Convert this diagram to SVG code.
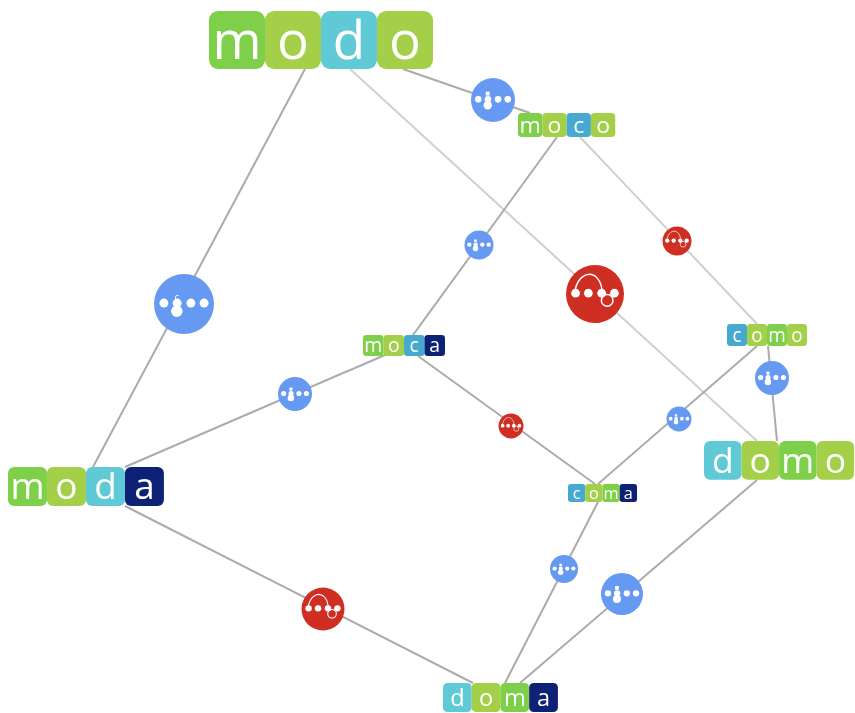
<svg xmlns="http://www.w3.org/2000/svg" width="855" height="713" viewBox="0 0 855 713">
<style>
.edge{stroke:#ababab;stroke-width:2;fill:none}
.light{stroke:#cfcfcf}
.t{stroke:none}
.tm{fill:#7ed04b}.to{fill:#a3cf48}.td{fill:#5fcad6}.tc{fill:#47a9d0}.ta{fill:#0c2074}
.l{font-family:"Open Sans",sans-serif;font-size:53px;fill:#fff;text-anchor:middle}
.blue{fill:#6699f2}.red{fill:#cf2e22}
.dot{fill:#fff}
.arc{fill:none;stroke:#fff;stroke-width:.05}
.c{font-family:"Open Sans",sans-serif;font-size:10px;fill:#fff;text-anchor:middle}
</style>
<defs>
<filter id="soft" x="-2%" y="-2%" width="104%" height="104%"><feGaussianBlur stdDeviation="0.7"/></filter>
<rect id="tile" class="t" width="56" height="58" rx="9"/>
<g id="dots"><circle class="dot" cx="-.67" cy="-.03" r=".15"/><circle class="dot" cx="-.23" cy="-.03" r=".15"/><circle class="dot" cx=".23" cy="-.03" r=".15"/><circle class="dot" cx=".67" cy="-.03" r=".15"/></g>
<g id="base"><circle class="blue" r="1"/><use href="#dots"/><circle class="dot" cx="-.24" cy=".24" r=".19"/></g>
<g id="ins"><use href="#base"/><rect class="dot" x="-.33" y="-.38" width=".18" height=".18"/></g>
<g id="swap"><circle class="red" r="1"/><use href="#dots"/><path class="arc" d="M-.68-.15C-.6-.55-.35-.68-.2-.68C0-.68 .2-.5 .24-.15"/><circle class="arc" cx=".42" cy=".22" r=".2"/></g>
</defs>
<g filter="url(#soft)">
<g id="connectors">
<path class="edge" d="M305 69L93 467"/>
<path class="edge" d="M403 69L530 113"/>
<path class="edge light" d="M350 69L757 441"/>
<path class="edge" d="M557 137L413 335"/>
<path class="edge light" d="M580 137L757 324"/>
<path class="edge" d="M125 467L385 355"/>
<path class="edge" d="M125 506L473 683"/>
<path class="edge" d="M418 356L595 484"/>
<path class="edge" d="M757 346L598 484"/>
<path class="edge" d="M768 346L777 441"/>
<path class="edge" d="M598 502L505 683"/>
<path class="edge" d="M757 480L520 683"/>
</g>
<g id="e-modo-moda"><use href="#base" transform="translate(184 304) scale(30)"/><text class="c" x="177" y="301">c</text></g>
<g id="e-modo-moco"><use href="#ins" transform="translate(493 100) scale(22)"/></g>
<g id="e-modo-domo"><use href="#swap" transform="translate(595 294) scale(29)"/></g>
<g id="e-moco-moca"><use href="#ins" transform="translate(479 245) scale(14.5)"/></g>
<g id="e-moco-como"><use href="#swap" transform="translate(677 241) scale(14.5)"/></g>
<g id="e-moda-moca"><use href="#ins" transform="translate(295 394) scale(17)"/></g>
<g id="e-moda-doma"><use href="#swap" transform="translate(323 609) scale(21.5)"/></g>
<g id="e-moca-coma"><use href="#swap" transform="translate(511 426) scale(12.5)"/></g>
<g id="e-como-coma"><use href="#ins" transform="translate(679 419) scale(12.5)"/></g>
<g id="e-como-domo"><use href="#ins" transform="translate(772 378) scale(17)"/></g>
<g id="e-coma-doma"><use href="#ins" transform="translate(564 569) scale(14)"/></g>
<g id="e-domo-doma"><use href="#ins" transform="translate(622 594) scale(21)"/></g>
<g id="modo" transform="translate(209 11)"><use href="#tile" class="tm"/><use href="#tile" class="to" x="56"/><use href="#tile" class="td" x="112"/><use href="#tile" class="to" x="168"/><text class="l" x="28" y="48">m</text><text class="l" x="84" y="48">o</text><text class="l" x="140" y="48">d</text><text class="l" x="196" y="48">o</text></g>
<g id="moco" transform="translate(518 113) scale(.434 .414)"><use href="#tile" class="tm"/><use href="#tile" class="to" x="56"/><use href="#tile" class="tc" x="112"/><use href="#tile" class="to" x="168"/><text class="l" x="28" y="48">m</text><text class="l" x="84" y="48">o</text><text class="l" x="140" y="48">c</text><text class="l" x="196" y="48">o</text></g>
<g id="moca" transform="translate(363 335) scale(.366 .362)"><use href="#tile" class="tm"/><use href="#tile" class="to" x="56"/><use href="#tile" class="tc" x="112"/><use href="#tile" class="ta" x="168"/><text class="l" x="28" y="48">m</text><text class="l" x="84" y="48">o</text><text class="l" x="140" y="48">c</text><text class="l" x="196" y="48">a</text></g>
<g id="como" transform="translate(727 324) scale(.357 .38)"><use href="#tile" class="tc"/><use href="#tile" class="to" x="56"/><use href="#tile" class="tm" x="112"/><use href="#tile" class="to" x="168"/><text class="l" x="28" y="48">c</text><text class="l" x="84" y="48">o</text><text class="l" x="140" y="48">m</text><text class="l" x="196" y="48">o</text></g>
<g id="coma" transform="translate(568 484) scale(.308 .31)"><use href="#tile" class="tc"/><use href="#tile" class="to" x="56"/><use href="#tile" class="tm" x="112"/><use href="#tile" class="ta" x="168"/><text class="l" x="28" y="48">c</text><text class="l" x="84" y="48">o</text><text class="l" x="140" y="48">m</text><text class="l" x="196" y="48">a</text></g>
<g id="domo" transform="translate(704 441) scale(.67)"><use href="#tile" class="td"/><use href="#tile" class="to" x="56"/><use href="#tile" class="tm" x="112"/><use href="#tile" class="to" x="168"/><text class="l" x="28" y="48">d</text><text class="l" x="84" y="48">o</text><text class="l" x="140" y="48">m</text><text class="l" x="196" y="48">o</text></g>
<g id="moda" transform="translate(8 467) scale(.696 .672)"><use href="#tile" class="tm"/><use href="#tile" class="to" x="56"/><use href="#tile" class="td" x="112"/><use href="#tile" class="ta" x="168"/><text class="l" x="28" y="48">m</text><text class="l" x="84" y="48">o</text><text class="l" x="140" y="48">d</text><text class="l" x="196" y="48">a</text></g>
<g id="doma" transform="translate(443 683) scale(.513 .5)"><use href="#tile" class="td"/><use href="#tile" class="to" x="56"/><use href="#tile" class="tm" x="112"/><use href="#tile" class="ta" x="168"/><text class="l" x="28" y="45" style="font-size:46px">d</text><text class="l" x="84" y="45" style="font-size:46px">o</text><text class="l" x="140" y="45" style="font-size:46px">m</text><text class="l" x="196" y="45" style="font-size:46px">a</text></g>
</g>
</svg>
